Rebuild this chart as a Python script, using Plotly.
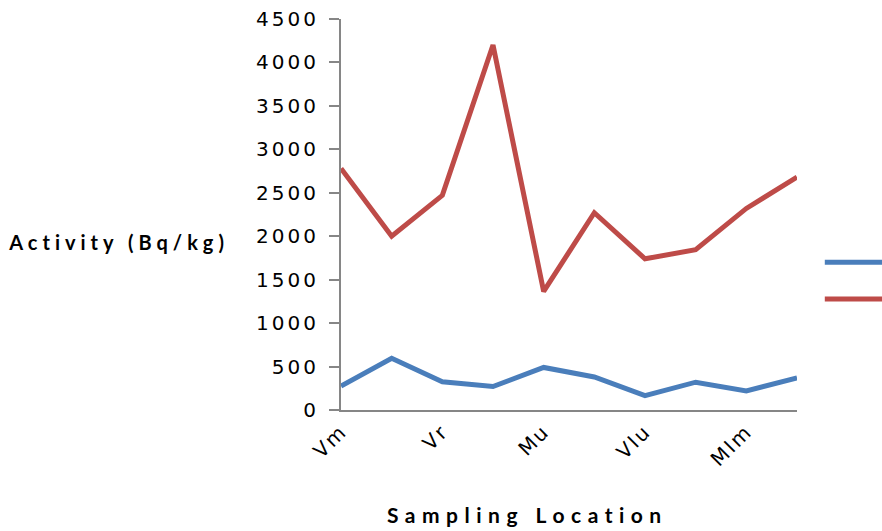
import plotly.graph_objects as go

# Sampling order along the river (10 sites); only every second site is labelled
site_index = [0, 1, 2, 3, 4, 5, 6, 7, 8, 9]
tick_sites = [0, 2, 4, 6, 8]
tick_labels = ["Vm", "Vr", "Mu", "VIu", "MIm"]

# Activity concentrations (Bq/kg)
series1 = [275, 595, 325, 270, 490, 380, 165, 320, 220, 370]
series2 = [2780, 2000, 2470, 4200, 1365, 2270, 1740, 1845, 2320, 2680]

BLUE = "#4A7EBB"
RED = "#BE4B48"
AXIS_GREY = "#868686"

fig = go.Figure()
fig.add_trace(go.Scatter(x=site_index, y=series1, mode="lines", name="Series1",
                         line=dict(color=BLUE, width=5)))
fig.add_trace(go.Scatter(x=site_index, y=series2, mode="lines", name="Series2",
                         line=dict(color=RED, width=5)))

fig.update_layout(
    width=882, height=531,
    margin=dict(l=341, r=85, t=19, b=121, autoexpand=False),
    paper_bgcolor="white", plot_bgcolor="white",
    font=dict(family="DejaVu Sans", color="black", size=20),
    showlegend=True,
    legend=dict(x=1.05, xanchor="left", y=0.438, yanchor="top",
                font=dict(size=26), itemwidth=60, bgcolor="rgba(0,0,0,0)"),
    xaxis=dict(range=[0, 9], showgrid=False, zeroline=False,
               showline=True, linecolor=AXIS_GREY, linewidth=2,
               tickmode="array", tickvals=tick_sites, ticktext=tick_labels,
               tickangle=-45, ticks="", tickfont=dict(size=20)),
    yaxis=dict(range=[0, 4500], dtick=500, showgrid=False, zeroline=False,
               showline=True, linecolor=AXIS_GREY, linewidth=2,
               ticks="outside", ticklen=10, tickwidth=2, tickcolor=AXIS_GREY,
               ticklabelstandoff=6, tickfont=dict(size=20)),
    annotations=[
        dict(text="<b>Activity (Bq/kg)</b>", xref="paper", yref="paper",
             x=-0.487, y=0.43, xanchor="center", yanchor="middle", showarrow=False,
             font=dict(family="Lato", size=20)),
        dict(text="<b>Sampling Location</b>", xref="paper", yref="paper",
             x=0.41, y=-0.266, xanchor="center", yanchor="middle", showarrow=False,
             font=dict(family="Lato", size=21)),
    ],
)

# Widen the character spacing of the tick labels and axis captions
spacing_js = """
document.querySelectorAll('.ytick text').forEach(function (t) { t.style.letterSpacing = '3px'; });
document.querySelectorAll('.xtick text').forEach(function (t) { t.style.letterSpacing = '2px'; });
var caps = document.querySelectorAll('.annotation-text');
caps.forEach(function (t, i) { t.style.letterSpacing = (i === 0 ? '5px' : '6.5px'); });
"""

fig.write_html("out.html", post_script=spacing_js)
